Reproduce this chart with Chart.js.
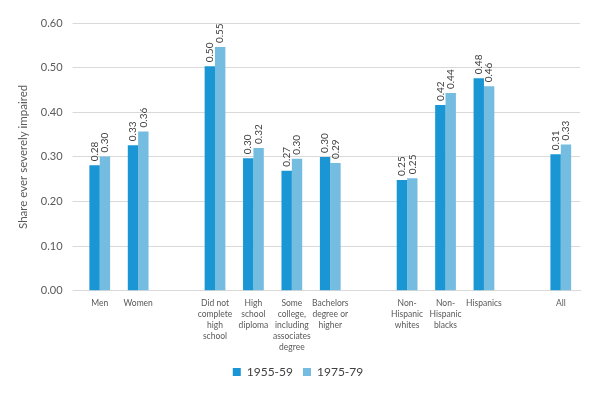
<!DOCTYPE html>
<html>
<head>
<meta charset="utf-8">
<script src="https://cdn.jsdelivr.net/npm/chart.js@4"></script>
<style>
  body { margin: 0; background: #fff; }
  #wrap { width: 591px; height: 395px; position: relative; }
</style>
</head>
<body>
<div id="wrap"><canvas id="myChart"></canvas></div>
<script>
// categories (empty strings are the spacer slots between groups)
const categories = [
    ['Men'], ['Women'], [''],
    ['Did not', 'complete', 'high', 'school'],
    ['High', 'school', 'diploma'],
    ['Some', 'college,', 'including', 'associates', 'degree'],
    ['Bachelors', 'degree or', 'higher'],
    [''],
    ['Non-', 'Hispanic', 'whites'],
    ['Non-', 'Hispanic', 'blacks'],
    ['Hispanics'],
    [''],
    ['All']
]
const cohort1955 = [0.281, 0.326, null, 0.503, 0.297, 0.269, 0.300, null, 0.248, 0.416, 0.476, null, 0.306]
const cohort1975 = [0.301, 0.357, null, 0.546, 0.320, 0.296, 0.286, null, 0.252, 0.443, 0.458, null, 0.328]
const yTicks = [0, 0.1, 0.2, 0.3, 0.4, 0.5, 0.6]

const ctx = document.getElementById('myChart')
const fontName = "Lato, 'Liberation Sans', sans-serif"

// writes the value above each bar, turned on its side
const barLabels = {
    id: 'barLabels',
    afterDatasetsDraw(chart) {
        const c = chart.ctx
        chart.data.datasets.forEach((ds, i) => {
            const meta = chart.getDatasetMeta(i)
            meta.data.forEach((bar, j) => {
                const v = ds.data[j]
                if (v === null) return
                c.save()
                c.translate(bar.x, bar.y - 4)
                c.rotate(-Math.PI / 2)
                c.font = '10px ' + fontName
                c.fillStyle = '#404040'
                c.textAlign = 'left'
                c.textBaseline = 'middle'
                c.fillText(v.toFixed(2), 0, 0)
                c.restore()
            })
        })
    }
}

new Chart(ctx, {
    type: 'bar',
    data: {
        labels: categories,
        datasets: [{
            label: '1955-59',
            data: cohort1955,
            backgroundColor: '#1a96d4',
            categoryPercentage: 0.54,
            barPercentage: 1
        }, {
            label: '1975-79',
            data: cohort1975,
            backgroundColor: '#74bde0',
            categoryPercentage: 0.54,
            barPercentage: 1
        }]
    },
    options: {
        responsive: true,
        maintainAspectRatio: false,
        animation: false,
        layout: { padding: { top: 23, right: 11, left: 16, bottom: 7 } },
        plugins: {
            legend: {
                position: 'bottom',
                labels: {
                    boxWidth: 8,
                    boxHeight: 8,
                    padding: 10,
                    color: '#404040',
                    font: { family: fontName, size: 12 }
                }
            },
            tooltip: { enabled: false }
        },
        scales: {
            x: {
                grid: { display: false, drawTicks: false },
                border: { color: '#d9d9d9' },
                afterFit: (scale) => { scale.height -= 4 },
                ticks: {
                    color: '#595959',
                    maxRotation: 0,
                    autoSkip: false,
                    padding: 7,
                    font: { family: fontName, size: 8.5, lineHeight: 1.3 }
                }
            },
            y: {
                min: 0,
                max: 0.6,
                afterBuildTicks: (axis) => { axis.ticks = yTicks.map(v => ({ value: v })) },
                grid: { color: '#d9d9d9' },
                border: { display: false },
                ticks: {
                    color: '#595959',
                    padding: 10,
                    font: { family: fontName, size: 11 },
                    callback: (v) => v.toFixed(2)
                },
                title: {
                    display: true,
                    text: 'Share ever severely impaired',
                    color: '#595959',
                    padding: { top: 0, bottom: 1 },
                    font: { family: fontName, size: 11.5 }
                }
            }
        }
    },
    plugins: [barLabels]
})
</script>
</body>
</html>
